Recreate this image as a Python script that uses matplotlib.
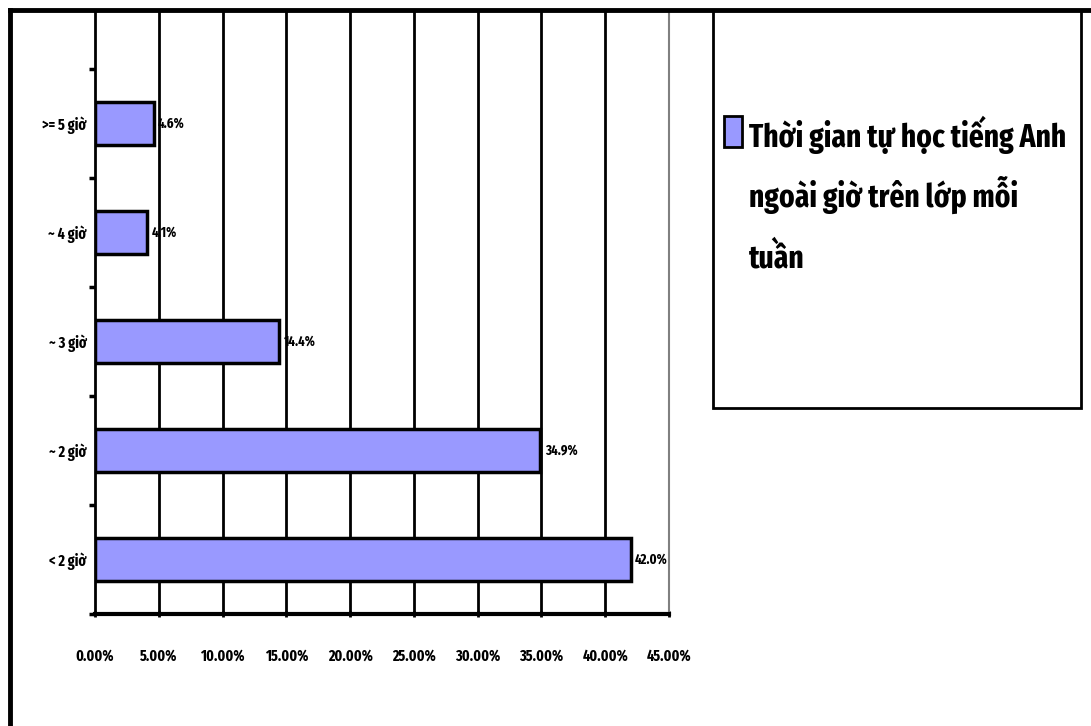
import numpy as np
import matplotlib
matplotlib.use('Agg')
import matplotlib.pyplot as plt
import matplotlib.patches as mpatches
from matplotlib.ticker import FixedLocator, NullFormatter

plt.rcParams['font.family'] = ['Fira Sans Extra Condensed', 'Roboto Condensed', 'DejaVu Sans']

# hours of self study per week, bottom to top
categories = ['< 2 giờ', '~ 2 giờ', '~ 3 giờ', '~ 4 giờ', '>= 5 giờ']
shares = [42.0, 34.9, 14.4, 4.1, 4.6]
xticks = [0, 5, 10, 15, 20, 25, 30, 35, 40, 45]
legend_lines = ['Thời gian tự học tiếng Anh', 'ngoài giờ trên lớp mỗi', 'tuần']

W, H = 1091, 726
fig = plt.figure(figsize=(W / 100, H / 100), dpi=100)

def fx(px):
    return px / W

def fy(py):
    return 1 - py / H

ax = fig.add_axes([fx(95), fy(614), fx(669) - fx(95), fy(10) - fy(614)])

ypos = np.arange(len(categories))
ax.barh(ypos, shares, height=0.4, color='#9999FF', edgecolor='black', linewidth=2.5, zorder=3)

for y, v in zip(ypos, shares):
    ax.text(v + 0.35, y, f'{v:.1f}%', va='center', ha='left', fontsize=10, fontweight='bold', zorder=4)

ax.set_xlim(0, 45)
ax.set_ylim(-0.5, 4.5 + 59 / 109)
ax.set_xticks(xticks)
ax.set_xticklabels([f'{t:.2f}%' for t in xticks], fontsize=11, fontweight='bold')
ax.tick_params(axis='x', length=5, width=2, direction='inout', pad=22)

ax.yaxis.set_major_locator(FixedLocator(ypos))
ax.set_yticklabels(categories, fontsize=11, fontweight='bold')
ax.tick_params(axis='y', which='major', length=0, pad=6)
ax.yaxis.set_minor_locator(FixedLocator(np.arange(-0.5, 5, 1.0)))
ax.yaxis.set_minor_formatter(NullFormatter())
ax.tick_params(axis='y', which='minor', length=4, width=2.5, direction='out')

# vertical gridlines
for t in xticks[1:-1]:
    ax.axvline(t, color='black', linewidth=2, zorder=1)

ax.spines['top'].set_visible(False)
ax.spines['right'].set_color('#808080')
ax.spines['right'].set_linewidth(1.5)
ax.spines['left'].set_linewidth(2)
ax.spines['bottom'].set_linewidth(3)

# outer frame (top and left edges)
fig.add_artist(plt.Line2D([fx(10), fx(W)], [fy(10), fy(10)], color='black', linewidth=3.5))
fig.add_artist(plt.Line2D([fx(10), fx(10)], [fy(10), fy(H)], color='black', linewidth=3.5))

# legend box
fig.add_artist(mpatches.Rectangle((fx(713), fy(408)), fx(1081) - fx(713), fy(10) - fy(408),
                                  transform=fig.transFigure, facecolor='white',
                                  edgecolor='black', linewidth=2))
fig.add_artist(mpatches.Rectangle((fx(724), fy(147)), fx(742) - fx(724), fy(116) - fy(147),
                                  transform=fig.transFigure, facecolor='#9999FF',
                                  edgecolor='black', linewidth=2))
for i, line in enumerate(legend_lines):
    fig.text(fx(749), fy(147 + 60 * i), line, ha='left', va='baseline', fontsize=23,
             fontweight='bold')

fig.savefig('out.png', dpi=100)
